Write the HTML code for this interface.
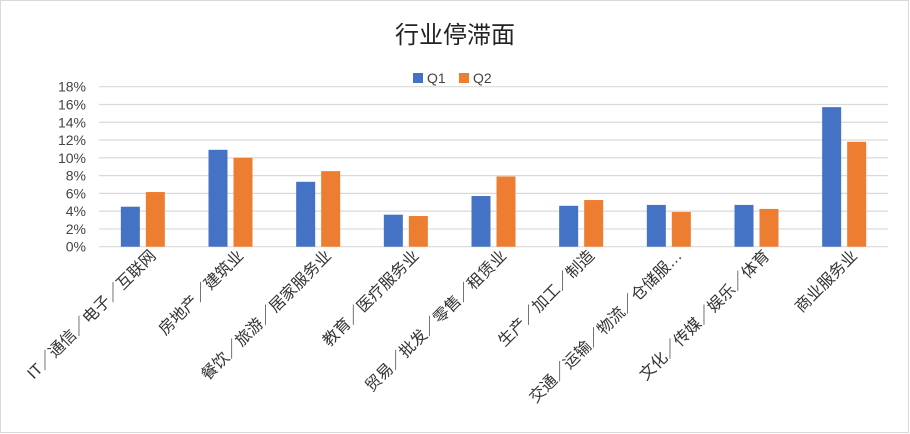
<!DOCTYPE html>
<html><head><meta charset="utf-8"><style>
html,body{margin:0;padding:0;background:#fff;}
svg{display:block;font-family:"Liberation Sans","Noto Sans CJK SC",sans-serif;}
</style></head><body>
<svg id="chart" width="910" height="434">
<rect x="0.5" y="0.5" width="908" height="432" fill="#fff" stroke="#d9d9d9"/>
<text x="455" y="43" text-anchor="middle" font-size="24" fill="#222">行业停滞面</text>
<g>
<rect x="413" y="73" width="10" height="10" fill="#4472c4"/>
<text x="427" y="83" font-size="14" fill="#444">Q1</text>
<rect x="459" y="73" width="10" height="10" fill="#ed7d31"/>
<text x="473" y="83" font-size="14" fill="#444">Q2</text>
</g>
<g id="grid"></g><g id="bars"></g><g id="xlabels"></g>
</svg>
<script>
const categories=["IT／通信／电子／互联网","房地产／建筑业","餐饮／旅游／居家服务业","教育／医疗服务业","贸易／批发／零售／租赁业","生产／加工／制造","交通／运输／物流／仓储服…","文化／传媒／娱乐／体育","商业服务业"];
const q1=[4.5,10.9,7.3,3.6,5.7,4.6,4.7,4.7,15.7];
const q2=[6.15,10.0,8.5,3.45,7.9,5.25,3.9,4.25,11.8];
const ticks=[0,2,4,6,8,10,12,14,16,18];
const NS="http://www.w3.org/2000/svg";
const X0=99,X1=888,Y0=246.7,YT=86.7,YMAX=18;
const y=v=>Y0-(v/YMAX)*(Y0-YT);
const bw=(X1-X0)/categories.length;
const cx=i=>X0+bw*(i+0.5);
function mk(t,a,p){const e=document.createElementNS(NS,t);for(const k in a)e.setAttribute(k,a[k]);p.appendChild(e);return e;}
const g=document.getElementById('grid');
ticks.forEach(t=>{
 const l=mk('line',{x1:X0,x2:X1,y1:y(t),y2:y(t),stroke:'#d9d9d9','stroke-width':1.2},g);
 
 
 const tx=mk('text',{x:86,y:y(t)+5,'text-anchor':'end','font-size':14,fill:'#444'},g);
 tx.textContent=t+'%';
 
 
});
const b=document.getElementById('bars');
const xl=document.getElementById('xlabels');
const w=19,gap=6;
categories.forEach((c,i)=>{
 const r1=mk('rect',{x:cx(i)-gap/2-w,y:y(q1[i]),width:w,height:Y0-y(q1[i]),fill:'#4472c4'},b);
 
 
 const r2=mk('rect',{x:cx(i)+gap/2,y:y(q2[i]),width:w,height:Y0-y(q2[i]),fill:'#ed7d31'},b);
 
 
 const ax=cx(i)+14,ay=Y0+10;
 const t=mk('text',{x:ax,y:ay,'text-anchor':'end','font-size':16,fill:'#333',transform:`rotate(-45 ${ax} ${ay})`},xl);
 t.textContent=c;
 
 
});
</script>
</body></html>
